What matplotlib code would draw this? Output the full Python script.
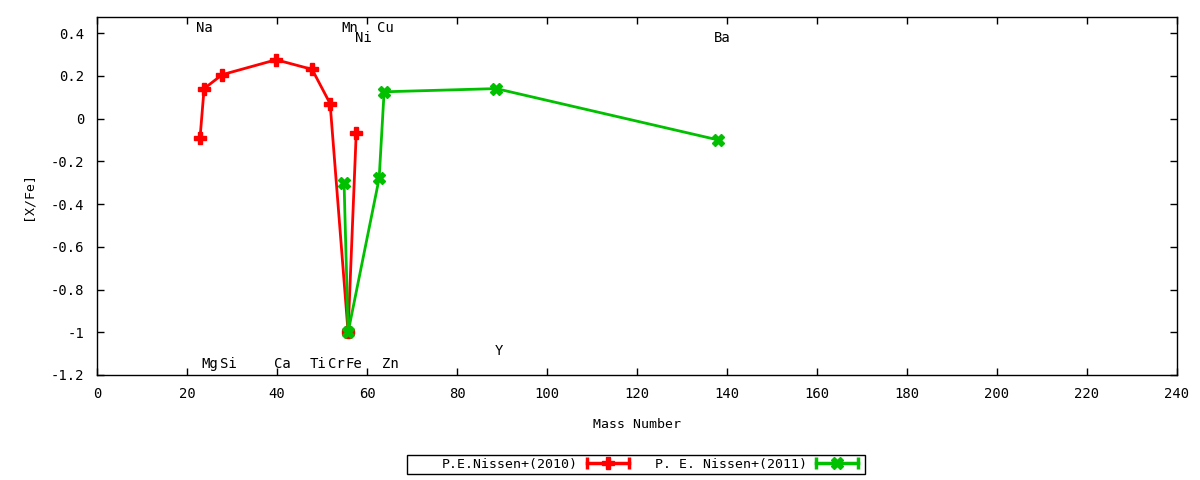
import matplotlib
matplotlib.use("Agg")
import matplotlib.pyplot as plt
from matplotlib.lines import Line2D
from matplotlib.patches import Rectangle
from matplotlib.legend_handler import HandlerLine2D, HandlerTuple

# Data
red_x = [22.9, 23.8, 27.8, 39.8, 47.8, 51.8, 55.8, 57.6]
red_y = [-0.09, 0.14, 0.205, 0.275, 0.23, 0.07, -1.0, -0.07]
green_x = [54.9, 55.8, 62.7, 63.8, 88.7, 138.0]
green_y = [-0.30, -1.0, -0.28, 0.125, 0.14, -0.10]

label_text = ["Na", "Mn", "Ni", "Cu", "Ba", "Mg", "Si", "Ca", "Ti", "Cr", "Fe", "Zn", "Y"]
label_x = [22.0, 54.2, 57.3, 62.2, 137.1, 23.3, 27.3, 39.3, 47.3, 51.3, 55.3, 63.3, 88.4]
label_y = [0.425, 0.425, 0.378, 0.425, 0.378, -1.15, -1.15, -1.15, -1.15, -1.15, -1.15, -1.15, -1.087]

series_names = ["P.E.Nissen+(2010)", "P. E. Nissen+(2011)"]
xticks = list(range(0, 241, 20))
yticks = [0.4, 0.2, 0, -0.2, -0.4, -0.6, -0.8, -1, -1.2]
ytick_labels = ["0.4", "0.2", "0", "-0.2", "-0.4", "-0.6", "-0.8", "-1", "-1.2"]

RED = "#ff0000"
GREEN = "#00c000"

plt.rcParams['font.family'] = ['DejaVu Sans Mono']
plt.rcParams['font.size'] = 9.5

fig = plt.figure(figsize=(12, 4.8), dpi=100)
ax = fig.add_axes([97/1200, 1-375/480, (1177-97)/1200, (375-17)/480])

l1, = ax.plot(red_x, red_y, color=RED, lw=2, marker="P", ms=8)
l2, = ax.plot(green_x, green_y, color=GREEN, lw=2, marker="X", ms=8)

for t, x, y in zip(label_text, label_x, label_y):
    ax.text(x, y, t, ha="left", va="center", fontsize=10)

ax.set_xlim(0, 240)
ax.set_ylim(-1.2, 0.475)
ax.set_xticks(xticks)
ax.set_yticks(yticks)
ax.set_yticklabels(ytick_labels)
ax.tick_params(direction="in", length=5, top=True, right=True, width=1, labelsize=10)
ax.tick_params(axis="x", pad=9)
ax.tick_params(axis="y", pad=9)
for s in ax.spines.values():
    s.set_linewidth(1)
ax.set_xlabel("Mass Number", labelpad=12, fontsize=9.5)
ax.set_ylabel("[X/Fe]", labelpad=12, fontsize=9.5)

# legend with capped line samples
cap1 = Line2D([], [], color=RED, lw=2.5, marker="|", ms=9, mew=2.5)
cap2 = Line2D([], [], color=GREEN, lw=2.5, marker="|", ms=9, mew=2.5)
hm = {cap1: HandlerLine2D(numpoints=2, marker_pad=0), cap2: HandlerLine2D(numpoints=2, marker_pad=0),
      l1: HandlerLine2D(numpoints=1), l2: HandlerLine2D(numpoints=1),
      tuple: HandlerTuple(ndivide=1)}
leg = fig.legend([(cap1, l1), (cap2, l2)], series_names, handler_map=hm,
                 loc="center left", bbox_to_anchor=(433/1200, 1-464.5/480), ncol=2,
                 markerfirst=False, frameon=False, fontsize=9.5,
                 handlelength=3.2, handletextpad=0.68, columnspacing=1.95, borderpad=0.2)
fig.patches.append(Rectangle((407/1200, 1-474/480), (865-407)/1200, 19/480,
                             transform=fig.transFigure, fill=False, edgecolor="black",
                             lw=1, figure=fig))

fig.savefig("out.png", dpi=100)
